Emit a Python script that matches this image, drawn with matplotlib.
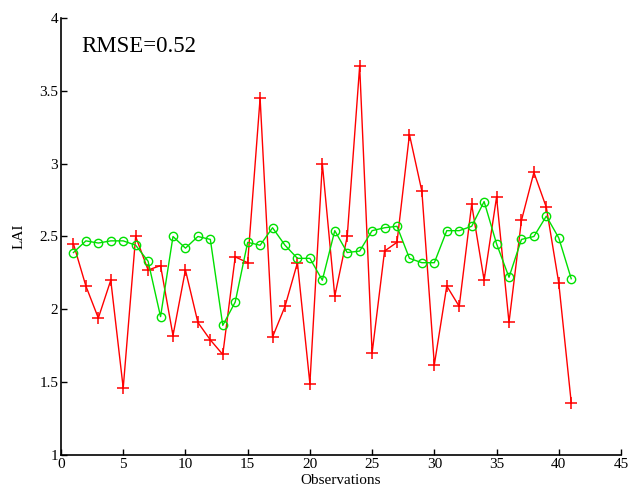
import matplotlib
matplotlib.use("Agg")
import matplotlib.pyplot as plt

obs = list(range(1, 42))
measured = [2.45, 2.16, 1.94, 2.20, 1.46, 2.50, 2.27, 2.30, 1.82, 2.27,
            1.91, 1.79, 1.69, 2.36, 2.32, 3.45, 1.81, 2.02, 2.32, 1.49,
            3.00, 2.09, 2.50, 3.67, 1.70, 2.40, 2.46, 3.20, 2.81, 1.62,
            2.16, 2.02, 2.72, 2.20, 2.77, 1.91, 2.61, 2.94, 2.70, 2.18,
            1.36]
estimated = [2.39, 2.47, 2.455, 2.47, 2.47, 2.44, 2.33, 1.95, 2.50, 2.42,
             2.50, 2.48, 1.89, 2.05, 2.46, 2.44, 2.56, 2.44, 2.35, 2.35,
             2.20, 2.54, 2.39, 2.40, 2.54, 2.56, 2.57, 2.35, 2.32, 2.32,
             2.54, 2.54, 2.57, 2.74, 2.45, 2.22, 2.48, 2.50, 2.64, 2.49,
             2.21]
xticks = [0, 5, 10, 15, 20, 25, 30, 35, 40, 45]
yticks = [1, 1.5, 2, 2.5, 3, 3.5, 4]
ytick_labels = ["1", "1.5", "2", "2.5", "3", "3.5", "4"]

plt.rcParams['font.family'] = ['Liberation Serif', 'DejaVu Serif']

fig = plt.figure(figsize=(6.34, 4.93), dpi=100)
ax = fig.add_axes([0.0962, 0.0771, 0.8833, 0.8864])

ax.plot(obs, measured, color='#ff0000', lw=1.0, marker='+', ms=8, mew=1.1)
ax.plot(obs, estimated, color='#00e000', lw=1.0, marker='o', ms=6,
        mfc='none', mec='#00e000', mew=1.0)

ax.set_xlim(0, 45)
ax.set_ylim(1, 4)
ax.set_xticks(xticks)
ax.set_yticks(yticks)
ax.set_yticklabels(ytick_labels)
ax.spines['top'].set_visible(False)
ax.spines['right'].set_visible(False)
ax.spines['left'].set_linewidth(1.2)
ax.spines['bottom'].set_linewidth(1.2)
ax.tick_params(direction='in', length=4, width=1, labelsize=11, pad=2)

ax.set_xlabel('Observations', fontsize=11, labelpad=2)
ax.set_ylabel('LAI', fontsize=11, labelpad=10)

ax.text(0.037, 0.935, 'RMSE=0.52', transform=ax.transAxes, fontsize=16.5,
        va='center', ha='left')

fig.savefig('out.png', dpi=100)
